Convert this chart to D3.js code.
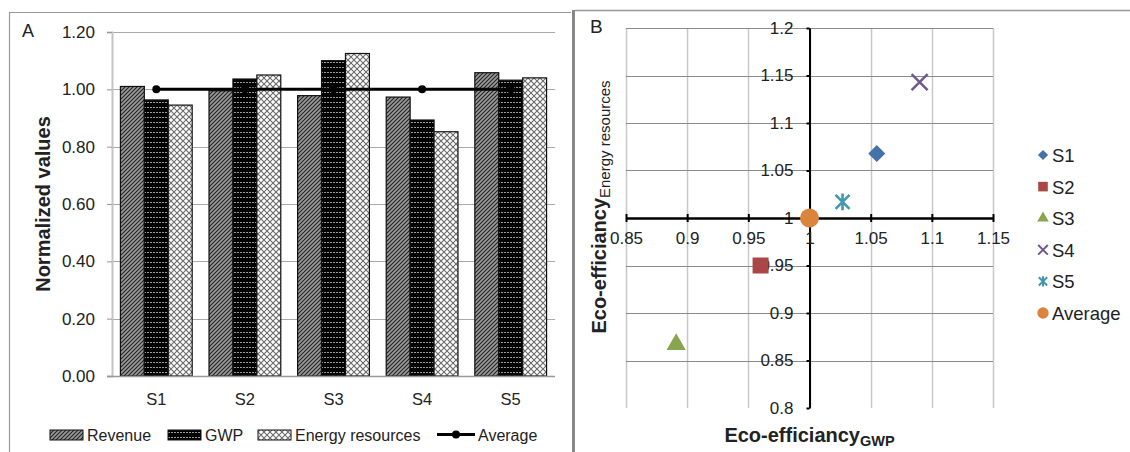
<!DOCTYPE html>
<html lang="en">
<head>
<meta charset="utf-8">
<title>Normalized values and eco-efficiency</title>
<script src="https://d3js.org/d3.v7.min.js"></script>
<style>
  body { margin: 0; background: #fff; }
  svg text { font-family: "Liberation Sans", Arial, sans-serif; fill: #222; }
</style>
</head>
<body>
<script>
// ---- data, panel A ----
const scenarios = ["S1", "S2", "S3", "S4", "S5"];
const revenue = [1.01, 0.995, 0.978, 0.973, 1.058];
const gwp = [0.963, 1.036, 1.10, 0.893, 1.032];
const energy = [0.945, 1.05, 1.125, 0.852, 1.04];
const average = [1, 1, 1, 1, 1];
const seriesNames = ["Revenue", "GWP", "Energy resources"];
const yTicksA = [0, 0.2, 0.4, 0.6, 0.8, 1.0, 1.2];

// ---- data, panel B ----
const pointNames = ["S1", "S2", "S3", "S4", "S5", "Average"];
const effGwp = [1.055, 0.96, 0.891, 1.09, 1.027, 1.0];
const effEnergy = [1.068, 0.95, 0.867, 1.143, 1.017, 1.0];
const xTicksB = [0.85, 0.9, 0.95, 1, 1.05, 1.1, 1.15];
const yTicksB = [0.8, 0.85, 0.9, 0.95, 1, 1.05, 1.1, 1.15, 1.2];

const pointColors = ["#4572A7", "#AA4643", "#89A54E", "#71588F", "#4198AF", "#DB843D"];

const svg = d3.select("body").append("svg")
  .attr("width", 1130).attr("height", 452);

// patterns for the bars
const defs = svg.append("defs");
const pRev = defs.append("pattern").attr("id", "pRev")
  .attr("patternUnits", "userSpaceOnUse").attr("width", 4).attr("height", 4);
pRev.append("rect").attr("width", 4).attr("height", 4).attr("fill", "#9a9a9a");
pRev.append("path").attr("d", "M0,4 L4,0 M-1,1 L1,-1 M3,5 L5,3")
  .attr("stroke", "#222").attr("stroke-width", 1.1);

const pGwp = defs.append("pattern").attr("id", "pGwp")
  .attr("patternUnits", "userSpaceOnUse").attr("width", 6).attr("height", 5);
pGwp.append("rect").attr("width", 6).attr("height", 5).attr("fill", "#000");
pGwp.append("path").attr("d", "M0,2.5 L2,2.5 M3,2.5 L5,2.5")
  .attr("stroke", "#9a9a9a").attr("stroke-width", 1);

const pEn = defs.append("pattern").attr("id", "pEn")
  .attr("patternUnits", "userSpaceOnUse").attr("width", 6).attr("height", 6);
pEn.append("rect").attr("width", 6).attr("height", 6).attr("fill", "#fff");
pEn.append("path").attr("d", "M0,0 L6,6 M6,0 L0,6")
  .attr("stroke", "#6a6a6a").attr("stroke-width", 1.1);

const fills = ["url(#pRev)", "url(#pGwp)", "url(#pEn)"];

// panel frames
svg.append("path").attr("d", "M9.5,452 L9.5,12.5 L571,12.5")
  .attr("fill", "none").attr("stroke", "#999").attr("stroke-width", 1.2);
svg.append("line").attr("x1", 573.5).attr("x2", 573.5).attr("y1", 10).attr("y2", 452)
  .attr("stroke", "#888").attr("stroke-width", 3);
svg.append("line").attr("x1", 575).attr("x2", 1130).attr("y1", 10.5).attr("y2", 10.5)
  .attr("stroke", "#999").attr("stroke-width", 1.5);

// =========== Panel A ===========
const gA = svg.append("g");
const xA = d3.scaleBand().domain(scenarios).range([112, 555]).paddingInner(0.19).paddingOuter(0.095);
const xSub = d3.scaleBand().domain(seriesNames).range([0, xA.bandwidth()]);
const yA = d3.scaleLinear().domain([0, 1.2]).range([376, 32]);

// gridlines
gA.append("g").selectAll("line").data(yTicksA.slice(1)).join("line")
  .attr("x1", 112).attr("x2", 555)
  .attr("y1", d => Math.round(yA(d)) + 0.5).attr("y2", d => Math.round(yA(d)) + 0.5)
  .attr("stroke", "#aaa");

const axA = gA.append("g").attr("transform", "translate(112,0)")
  .call(d3.axisLeft(yA).tickValues(yTicksA).tickFormat(d3.format(".2f")).tickSize(5).tickPadding(12));
axA.select(".domain").attr("stroke", "#c4c4c4").attr("stroke-width", 2);
axA.selectAll(".tick line").attr("stroke", "#999");
axA.selectAll(".tick text").attr("font-size", 17).attr("fill", "#222")
  .attr("font-family", "Liberation Sans, Arial, sans-serif");

// bars
const seriesVals = [revenue, gwp, energy];
seriesVals.forEach((vals, si) => {
  gA.append("g").selectAll("rect").data(vals).join("rect")
    .attr("x", (d, i) => xA(scenarios[i]) + xSub(seriesNames[si]))
    .attr("width", xSub.bandwidth())
    .attr("y", d => yA(d))
    .attr("height", d => yA(0) - yA(d))
    .attr("fill", fills[si])
    .attr("stroke", "#111").attr("stroke-width", 1.2);
});

// bottom axis
gA.append("line").attr("x1", 107).attr("x2", 555).attr("y1", 376.5).attr("y2", 376.5)
  .attr("stroke", "#999").attr("stroke-width", 1.5);
gA.append("g").selectAll("text").data(scenarios).join("text")
  .attr("x", d => xA(d) + xA.bandwidth() / 2).attr("y", 405)
  .attr("text-anchor", "middle").attr("font-size", 16.5).text(d => d);

// average line
const avgLine = d3.line()
  .x((d, i) => xA(scenarios[i]) + xA.bandwidth() / 2)
  .y(d => yA(d));
gA.append("path").datum(average).attr("d", avgLine)
  .attr("fill", "none").attr("stroke", "#000").attr("stroke-width", 3);
gA.append("g").selectAll("circle").data(average).join("circle")
  .attr("cx", (d, i) => xA(scenarios[i]) + xA.bandwidth() / 2)
  .attr("cy", d => yA(d)).attr("r", 4).attr("fill", "#000");

gA.append("text").attr("x", 22).attr("y", 37).attr("font-size", 18).text("A");
gA.append("text")
  .attr("transform", "translate(50,204) rotate(-90)")
  .attr("text-anchor", "middle").attr("font-size", 20).attr("font-weight", "bold")
  .text("Normalized values");

// legend A
const legA = gA.append("g");
const legItems = [
  { name: "Revenue", x: 50 },
  { name: "GWP", x: 168 },
  { name: "Energy resources", x: 258 }
];
legItems.forEach((it, i) => {
  legA.append("rect").attr("x", it.x).attr("y", 430).attr("width", 33).attr("height", 10)
    .attr("fill", fills[i]).attr("stroke", "#111");
  legA.append("text").attr("x", it.x + 37).attr("y", 441).attr("font-size", 16).text(it.name);
});
legA.append("line").attr("x1", 437).attr("x2", 475).attr("y1", 434.5).attr("y2", 434.5)
  .attr("stroke", "#000").attr("stroke-width", 3);
legA.append("circle").attr("cx", 456).attr("cy", 434.5).attr("r", 4).attr("fill", "#000");
legA.append("text").attr("x", 478).attr("y", 441).attr("font-size", 16).text("Average");

// =========== Panel B ===========
const gB = svg.append("g");
const xB = d3.scaleLinear().domain([0.85, 1.15]).range([626, 993]);
const yB = d3.scaleLinear().domain([0.8, 1.2]).range([408, 28]);

gB.append("g").selectAll("line").data(xTicksB).join("line")
  .attr("x1", d => Math.round(xB(d)) + 0.5).attr("x2", d => Math.round(xB(d)) + 0.5)
  .attr("y1", yB(1.2)).attr("y2", yB(0.8))
  .attr("stroke", "#c8c8c8").attr("stroke-width", 1.5);
gB.append("g").selectAll("line").data(yTicksB.filter(d => d !== 0.8)).join("line")
  .attr("x1", xB(0.85)).attr("x2", xB(1.15))
  .attr("y1", d => Math.round(yB(d)) + 0.5).attr("y2", d => Math.round(yB(d)) + 0.5)
  .attr("stroke", "#8a8a8a").attr("stroke-width", 1);

// y axis crossing at x=1
const ayB = gB.append("g").attr("transform", `translate(${xB(1)},0)`)
  .call(d3.axisLeft(yB).tickValues(yTicksB).tickFormat(d => d3.format("")(+d.toFixed(2))).tickSizeInner(3).tickSizeOuter(0).tickPadding(13));
ayB.select(".domain").attr("stroke", "#000").attr("stroke-width", 2);
ayB.selectAll(".tick line").attr("stroke", "#000").attr("stroke-width", 2);
ayB.selectAll(".tick text").attr("font-size", 17).attr("fill", "#333")
  .attr("font-family", "Liberation Sans, Arial, sans-serif");

// x axis crossing at y=1
const axB = gB.append("g").attr("transform", `translate(0,${yB(1)})`)
  .call(d3.axisBottom(xB).tickValues(xTicksB).tickFormat(d => d3.format("")(+d.toFixed(2))).tickSizeInner(4).tickSizeOuter(0).tickPadding(10));
axB.select(".domain").attr("stroke", "#000").attr("stroke-width", 2.5);
axB.selectAll(".tick line").attr("stroke", "#000").attr("stroke-width", 2).attr("y1", -4);
axB.selectAll(".tick text").attr("font-size", 17).attr("fill", "#333")
  .attr("font-family", "Liberation Sans, Arial, sans-serif");

// markers
function drawMarker(sel, i, scale) {
  const c = pointColors[i];
  const s = scale || 1;
  if (i === 0) {
    const h = 8.5 * s;
    sel.append("path").attr("d", `M0,${-h}L${h},0L0,${h}L${-h},0Z`).attr("fill", c);
  } else if (i === 1) {
    sel.append("path").attr("d", d3.symbol(d3.symbolSquare, 256 * s * s)()).attr("fill", c);
  } else if (i === 2) {
    sel.append("path").attr("d", d3.symbol(d3.symbolTriangle, 160 * s * s)()).attr("fill", c);
  } else if (i === 3) {
    const h = 8 * s;
    sel.append("path").attr("d", `M${-h},${-h}L${h},${h}M${h},${-h}L${-h},${h}`)
      .attr("stroke", c).attr("stroke-width", 2.5 * Math.max(s, 0.8)).attr("fill", "none");
  } else if (i === 4) {
    const h = 7 * s;
    sel.append("path").attr("d", `M${-h},${-h}L${h},${h}M${h},${-h}L${-h},${h}M0,${-h * 1.2}L0,${h * 1.2}`)
      .attr("stroke", c).attr("stroke-width", 2.6 * Math.max(s, 0.8)).attr("fill", "none");
  } else {
    sel.append("circle").attr("r", 9.5 * s).attr("fill", c);
  }
}

pointNames.forEach((name, i) => {
  const g = gB.append("g").attr("transform", `translate(${xB(effGwp[i])},${yB(effEnergy[i])})`);
  drawMarker(g, i, 1);
});

gB.append("text").attr("x", 590).attr("y", 33).attr("font-size", 19).text("B");

// axis titles
const xt = gB.append("text").attr("x", xB(1)).attr("y", 442).attr("text-anchor", "middle")
  .attr("font-size", 20).attr("font-weight", "bold");
xt.append("tspan").text("Eco-efficiancy");
xt.append("tspan").attr("font-size", 14.5).attr("dy", 4).text("GWP");

const yt = gB.append("text").attr("transform", "translate(606,207) rotate(-90)").attr("text-anchor", "middle")
  .attr("font-size", 20).attr("font-weight", "bold");
yt.append("tspan").text("Eco-efficiancy");
yt.append("tspan").attr("font-size", 15).attr("font-weight", "normal").attr("dy", 4).text("Energy resources");

// legend B
pointNames.forEach((name, i) => {
  const y = 155 + i * 31.6;
  const g = gB.append("g").attr("transform", `translate(1043,${y})`);
  drawMarker(g, i, 0.6);
  gB.append("text").attr("x", 1052).attr("y", y + 7).attr("font-size", 18.5).text(name);
});
</script>
</body>
</html>
